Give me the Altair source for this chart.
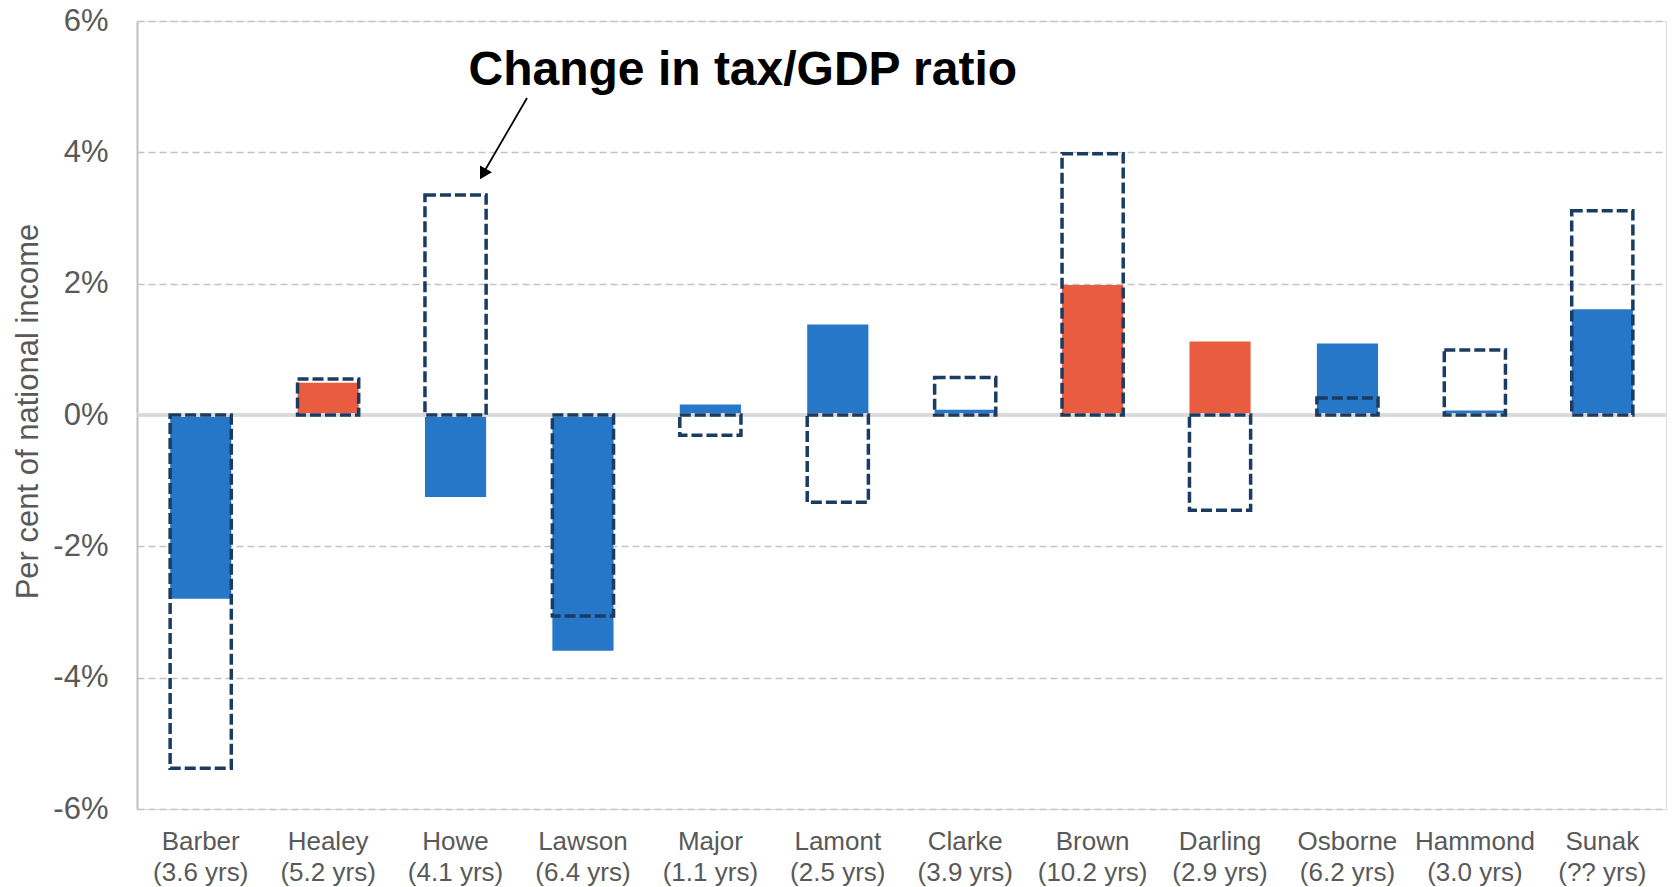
import altair as alt
import pandas as pd

# ---- data ----
chancellors = ["Barber", "Healey", "Howe", "Lawson", "Major", "Lamont",
               "Clarke", "Brown", "Darling", "Osborne", "Hammond", "Sunak"]
tenures = ["(3.6 yrs)", "(5.2 yrs)", "(4.1 yrs)", "(6.4 yrs)", "(1.1 yrs)", "(2.5 yrs)",
           "(3.9 yrs)", "(10.2 yrs)", "(2.9 yrs)", "(6.2 yrs)", "(3.0 yrs)", "(?? yrs)"]
# solid bars: policy measures (per cent of national income)
policy_change = [-2.80, 0.49, -1.25, -3.59, 0.16, 1.38, 0.08, 1.98, 1.12, 1.09, 0.07, 1.61]
# dashed outlines: change in tax/GDP ratio
taxgdp_change = [-5.38, 0.55, 3.35, -3.06, -0.31, -1.33, 0.57, 3.98, -1.45, 0.26, 0.99, 3.11]
party = ["Con", "Lab", "Con", "Con", "Con", "Con", "Con", "Lab", "Lab", "Con", "Con", "Con"]
y_ticks = [-6, -4, -2, 0, 2, 4, 6]

labels = [f"{n}|{t}" for n, t in zip(chancellors, tenures)]
df = pd.DataFrame({
    "cat": labels,
    "policy": policy_change,
    "taxgdp": taxgdp_change,
    "party": party,
    "zero": [0.0] * len(labels),
})

BLUE = "#2677C7"
RED = "#E95C40"
NAVY = "#1B3C62"
GREY_TXT = "#595959"
FONT = "Liberation Sans"

W, H = 1529, 788

x_enc = alt.X(
    "cat:N", sort=None,
    scale=alt.Scale(paddingInner=0.52, paddingOuter=0.26),
    axis=alt.Axis(
        title=None, domain=False, ticks=False, grid=False, labelAngle=0,
        labelExpr="split(datum.label, '|')",
        labelFont=FONT, labelFontSize=26, labelColor=GREY_TXT,
        labelLineHeight=31, labelPadding=19, labelBaseline="top",
    ),
)
y_scale = alt.Scale(domain=[-6, 6], nice=False, zero=False)

bars = alt.Chart(df).mark_bar().encode(
    x=x_enc,
    y=alt.Y(
        "policy:Q", scale=y_scale,
        axis=alt.Axis(
            values=y_ticks, labelExpr="datum.value + '%'",
            title="Per cent of national income",
            titleFont=FONT, titleFontSize=31, titleFontWeight="normal", titleColor=GREY_TXT,
            titleAngle=270, titleAlign="center", titleBaseline="alphabetic",
            titleX=-100, titleY=390,
            labelFont=FONT, labelFontSize=31, labelColor=GREY_TXT, labelPadding=29,
            ticks=False, domain=True, domainColor="#BFBFBF", domainWidth=2,
            grid=True, gridColor="#C3C3C3", gridDash=[7, 4], gridWidth=1.5,
        ),
    ),
    y2="zero:Q",
    color=alt.Color("party:N", scale=alt.Scale(domain=["Con", "Lab"], range=[BLUE, RED]), legend=None),
)

zero_line = alt.Chart(df).mark_rule(color="#D9D9D9", strokeWidth=2.5).encode(
    y=alt.Y("zero:Q", scale=y_scale),
)

outlines = alt.Chart(df).mark_bar(
    fill=None, fillOpacity=0, stroke=NAVY, strokeWidth=3.5, strokeDash=[11, 4]
).encode(
    x=alt.X("cat:N", sort=None),
    y=alt.Y("taxgdp:Q", scale=y_scale),
    y2="zero:Q",
)

# annotation
ann_df = pd.DataFrame({"cat": [labels[2]], "yv": [5.03], "txt": ["Change in tax/GDP ratio"]})
ann_text = alt.Chart(ann_df).mark_text(
    font=FONT, fontSize=48, fontWeight="bold", color="black",
    align="left", baseline="alphabetic", dx=13,
).encode(x=alt.X("cat:N", sort=None), y=alt.Y("yv:Q", scale=y_scale), text="txt:N")

arrow_x0, arrow_y0 = 527 - 137, 98 - 21
arrow_x1, arrow_y1 = 484 - 137, 172 - 21
arrow_shaft = alt.Chart(ann_df).mark_rule(color="black", strokeWidth=1.8).encode(
    x=alt.value(arrow_x0), y=alt.value(arrow_y0),
    x2=alt.value(arrow_x1), y2=alt.value(arrow_y1),
)
arrow_head = alt.Chart(ann_df).mark_point(
    shape="triangle-up", filled=True, color="black", size=190, angle=210, opacity=1
).encode(x=alt.value(arrow_x1 - 1), y=alt.value(arrow_y1 + 2))

chart = alt.layer(bars, zero_line, outlines, ann_text, arrow_shaft, arrow_head).properties(
    width=W, height=H,
    autosize=alt.AutoSizeParams(type="none"),
    padding={"left": 137, "top": 21, "right": 7, "bottom": 78},
).configure_view(stroke=None).configure(background="white")

chart.save("out.html", embed_options={"renderer": "svg", "actions": False})
